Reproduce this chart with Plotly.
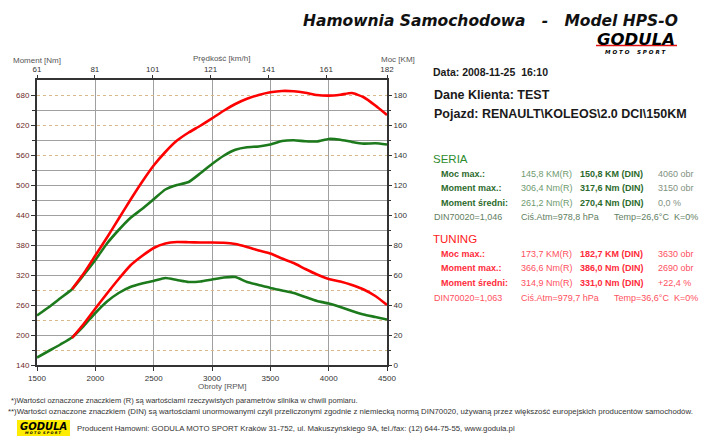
import plotly.graph_objects as go

# ---------------- data ----------------
rpm_seria = [1500, 1600, 1700, 1800, 1900, 2000, 2100, 2200, 2300, 2400, 2500,
             2600, 2700, 2800, 2900, 3000, 3100, 3200, 3300, 3400, 3500,
             3600, 3700, 3800, 3900, 4000, 4100, 4200, 4300, 4400, 4500]
seria_torque = [155, 168, 181, 195, 218, 244, 267, 284, 296, 303, 308,
                314, 310, 306, 307, 311, 315, 316, 306, 300, 294,
                289, 284, 276, 268, 263, 256, 248, 241, 236, 231]
seria_power = [33, 38.5, 44.5, 50.5, 60, 70, 81, 90, 98, 104, 110.5,
               117, 120, 122, 127.8, 134, 139.5, 143.5, 145.2, 145.7, 147,
               149.3, 149.8, 149.2, 149, 150.7, 150.2, 148.7, 147.6, 147.8, 147]

rpm_tuning = [1800, 1900, 2000, 2100, 2200, 2300, 2400, 2500, 2600, 2700,
              2800, 2900, 3000, 3100, 3200, 3300, 3400, 3500, 3600, 3700,
              3800, 3900, 4000, 4100, 4200, 4300, 4400, 4500]
tuning_torque = [194, 222, 253, 283, 312, 339, 358, 374, 383, 386,
                 385.5, 385, 385, 384.5, 382, 376, 369, 363, 353, 344,
                 332, 321, 312, 307, 300, 291, 278, 260]
tuning_power = [50.5, 61, 73, 85, 97.5, 110, 122, 133, 142, 149.6,
                155, 159.5, 164.4, 169.5, 174, 177.5, 180, 181.8, 182.7, 182.5,
                181.5, 180, 179.6, 180.2, 181.3, 178.5, 173, 166.7]

rpm_ticks = [1500, 2000, 2500, 3000, 3500, 4000, 4500]
speed_ticks = [61, 81, 101, 121, 141, 161, 182]
torque_ticks = [140, 200, 260, 320, 380, 440, 500, 560, 620, 680]
torque_minor = [170, 230, 290, 350, 410, 470, 530, 590, 650]
power_ticks = [0, 20, 40, 60, 80, 100, 120, 140, 160, 180]
power_minor = [10, 30, 50, 70, 90, 110, 130, 150, 170]
grid_solid = [20, 40, 60, 70, 80, 90, 100, 110, 120, 130, 150, 170]
grid_dotted = [10, 30, 50, 140, 160, 180]

seria_rows = [
    ["Moc max.:", "145,8 KM(R)", "150,8 KM (DIN)", "4060 obr"],
    ["Moment max.:", "306,4 Nm(R)", "317,6 Nm (DIN)", "3150 obr"],
    ["Moment średni:", "261,2 Nm(R)", "270,4 Nm (DIN)", "0,0 %"],
]
seria_cond = ["DIN70020=1,046", "Ciś.Atm=978,8 hPa", "Temp=26,6°C", "K=0%"]
tuning_rows = [
    ["Moc max.:", "173,7 KM(R)", "182,7 KM (DIN)", "3630 obr"],
    ["Moment max.:", "366,6 Nm(R)", "386,0 Nm (DIN)", "2690 obr"],
    ["Moment średni:", "314,9 Nm(R)", "331,0 Nm (DIN)", "+22,4 %"],
]
tuning_cond = ["DIN70020=1,063", "Ciś.Atm=979,7 hPa", "Temp=36,6°C", "K=0%"]

# ---------------- layout geometry ----------------
W, H = 716, 438
ML, MR, MT, MB = 37, 329, 80, 73
PW, PH = W - ML - MR, H - MT - MB


def px(x):
    return (x - ML) / PW


def py(y):
    return (H - MB - y) / PH


GREEN = "#1c7a1c"
RED = "#ff0000"
SANS = "Liberation Sans"
LINE = dict(width=2.6, shape="spline", smoothing=0.5)

fig = go.Figure()
fig.add_trace(go.Scatter(x=rpm_seria, y=seria_torque, mode="lines", yaxis="y",
                         line=dict(color=GREEN, **LINE), hoverinfo="skip", showlegend=False))
fig.add_trace(go.Scatter(x=rpm_tuning, y=tuning_torque, mode="lines", yaxis="y",
                         line=dict(color=RED, **LINE), hoverinfo="skip", showlegend=False))
fig.add_trace(go.Scatter(x=rpm_seria, y=seria_power, mode="lines", yaxis="y2",
                         line=dict(color=GREEN, **LINE), hoverinfo="skip", showlegend=False))
fig.add_trace(go.Scatter(x=rpm_tuning, y=tuning_power, mode="lines", yaxis="y2",
                         line=dict(color=RED, **LINE), hoverinfo="skip", showlegend=False))
# helper (empty) traces so that the auxiliary axes are drawn
fig.add_trace(go.Scatter(x=[None], y=[None], xaxis="x2", yaxis="y", hoverinfo="skip", showlegend=False))
fig.add_trace(go.Scatter(x=[None], y=[None], xaxis="x", yaxis="y3", hoverinfo="skip", showlegend=False))
fig.add_trace(go.Scatter(x=[None], y=[None], xaxis="x", yaxis="y4", hoverinfo="skip", showlegend=False))

tickfont = dict(family=SANS, size=8, color="#333333")

fig.update_layout(
    width=W, height=H, autosize=False,
    margin=dict(l=ML, r=MR, t=MT, b=MB, pad=0),
    paper_bgcolor="white", plot_bgcolor="white",
    xaxis=dict(range=[1500, 4500], tickvals=rpm_ticks, ticks="outside", ticklen=4,
               tickcolor="#333", showgrid=True, gridcolor="#a0a0a0", gridwidth=1,
               zeroline=False, showline=True, linewidth=2, linecolor="#333",
               mirror=True, tickfont=tickfont, fixedrange=True),
    xaxis2=dict(range=[61, 182], tickvals=speed_ticks, overlaying="x", side="top",
                anchor="y", ticks="outside", ticklen=4, tickcolor="#333",
                showgrid=False, zeroline=False, showline=False, tickfont=tickfont),
    yaxis=dict(range=[140, 710], tickvals=torque_ticks, ticks="outside", ticklen=4,
               tickcolor="#333", showgrid=False, zeroline=False, showline=True,
               linewidth=2, linecolor="#333", mirror=True,
               tickfont=dict(family=SANS, size=8, color="#6e2a2a"),
               minor=dict(tickvals=torque_minor, ticks="outside", ticklen=3,
                          tickcolor="#333", showgrid=False)),
    yaxis2=dict(range=[0, 190], tickvals=power_ticks, overlaying="y", side="right",
                anchor="x", ticks="outside", ticklen=4, tickcolor="#333",
                showgrid=False, zeroline=False, showline=False, tickfont=tickfont,
                minor=dict(tickvals=power_minor, ticks="outside", ticklen=3,
                           tickcolor="#333", showgrid=False)),
    yaxis3=dict(range=[0, 190], tickvals=grid_solid, overlaying="y", anchor="x",
                showticklabels=False, ticks="", showline=False, zeroline=False,
                showgrid=True, gridcolor="#a0a0a0", gridwidth=1),
    yaxis4=dict(range=[0, 190], tickvals=grid_dotted, overlaying="y", anchor="x",
                showticklabels=False, ticks="", showline=False, zeroline=False,
                showgrid=True, gridcolor="#d9b98c", gridwidth=1, griddash="dot"),
)

ann = []


def txt(x, y, text, size, color, anchor="left", family=SANS):
    ann.append(dict(x=px(x), y=py(y), xref="paper", yref="paper", text=text,
                    showarrow=False, xanchor=anchor, yanchor="middle",
                    font=dict(family=family, size=size, color=color)))


NB = "\u00a0"
# title & logo
txt(490, 21, "<b><i>Hamownia Samochodowa" + NB * 3 + "-" + NB * 3 + "Model HPS-O</i></b>",
    15.5, "#111111", "center", "DejaVu Sans")
txt(636, 39, "<b><i>GODULA</i></b>", 16.5, "#000000", "center", "DejaVu Sans")
txt(636, 52.5, "<b><i>M" + NB + "O" + NB + "T" + NB + "O" + NB * 4 + "S" + NB + "P" + NB + "O" + NB + "R" + NB + "T</i></b>",
    5.5, "#000000", "center", "DejaVu Sans")

# axis titles
txt(37, 60, "Moment [Nm]", 8, "#555555", "center")
txt(221, 58, "Prędkość [km/h]", 8, "#555555", "center")
txt(379, 59, "Moc [KM]", 8, "#555555", "left")
txt(222, 386, "Obroty [RPM]", 8, "#555555", "center")

# info panel
txt(431, 72, "<b>Data: 2008-11-25" + NB * 2 + "16:10</b>", 10.5, "#1a1a1a")
txt(432, 95.5, "<b>Dane Klienta: TEST</b>", 12.5, "#1a1a1a")
txt(432, 114, "<b>Pojazd: RENAULT\\KOLEOS\\2.0 DCI\\150KM</b>", 12.5, "#1a1a1a")

cols = [439, 519, 578, 656]
cond_cols = [431.5, 519, 611.5, 671.5]

txt(431, 158.5, "SERIA", 11.5, "#2e8b2e")
for i, row in enumerate(seria_rows):
    yy = 173.5 + 14.5 * i
    txt(cols[0], yy, "<b>" + row[0] + "</b>", 9, "#2c6a2c")
    txt(cols[1], yy, row[1], 9, "#6f9a6f")
    txt(cols[2], yy, "<b>" + row[2] + "</b>", 9, "#2c6a2c")
    txt(cols[3], yy, row[3], 9, "#7f917f")
for c, t in zip(cond_cols, seria_cond):
    txt(c, 217.5, t, 9, "#5f805f")

txt(431, 238.5, "TUNING", 11.5, "#ff1a1a")
for i, row in enumerate(tuning_rows):
    yy = 253.7 + 14.7 * i
    txt(cols[0], yy, "<b>" + row[0] + "</b>", 9, "#ff2a3a")
    txt(cols[1], yy, row[1], 9, "#ff5060")
    txt(cols[2], yy, "<b>" + row[2] + "</b>", 9, "#ff2a3a")
    txt(cols[3], yy, row[3], 9, "#ff5060")
for c, t in zip(cond_cols, tuning_cond):
    txt(c, 298, t, 9, "#ff5060")

# footer
txt(9, 400, "*)Wartości oznaczone znaczkiem (R) są wartościami rzeczywistych parametrów silnika w chwili pomiaru.",
    7.5, "#333333")
txt(6, 411, "**)Wartości oznaczone znaczkiem (DIN) są wartościami unormowanymi czyli przeliczonymi zgodnie z niemiecką normą DIN70020, używaną przez większość europejskich producentów samochodów.",
    7.8, "#333333")
txt(75, 428, "Producent Hamowni: GODULA MOTO SPORT Kraków 31-752, ul. Makuszyńskiego 9A, tel./fax: (12) 644-75-55, www.godula.pl",
    7.8, "#333333")
txt(43.5, 426, "<b><i>GODULA</i></b>", 10, "#000000", "center", "DejaVu Sans")
txt(43.5, 433, "<b><i>M" + NB + "O" + NB + "T" + NB + "O" + NB * 2 + "S" + NB + "P" + NB + "O" + NB + "R" + NB + "T</i></b>",
    3.5, "#000000", "center", "DejaVu Sans")

fig.update_layout(annotations=ann)

shapes = [
    dict(type="rect", xref="paper", yref="paper", x0=px(17), x1=px(70), y0=py(436), y1=py(420),
         fillcolor="#ffec00", line=dict(width=0), layer="below"),
    dict(type="line", xref="paper", yref="paper", x0=px(596), x1=px(677), y0=py(45.5), y1=py(45.5),
         line=dict(color="#e01010", width=1.5)),
]
fig.update_layout(shapes=shapes)

fig.write_html("out.html", config={"displayModeBar": False, "staticPlot": True},
               post_script="document.body.style.margin='0';document.body.style.padding='0';")
